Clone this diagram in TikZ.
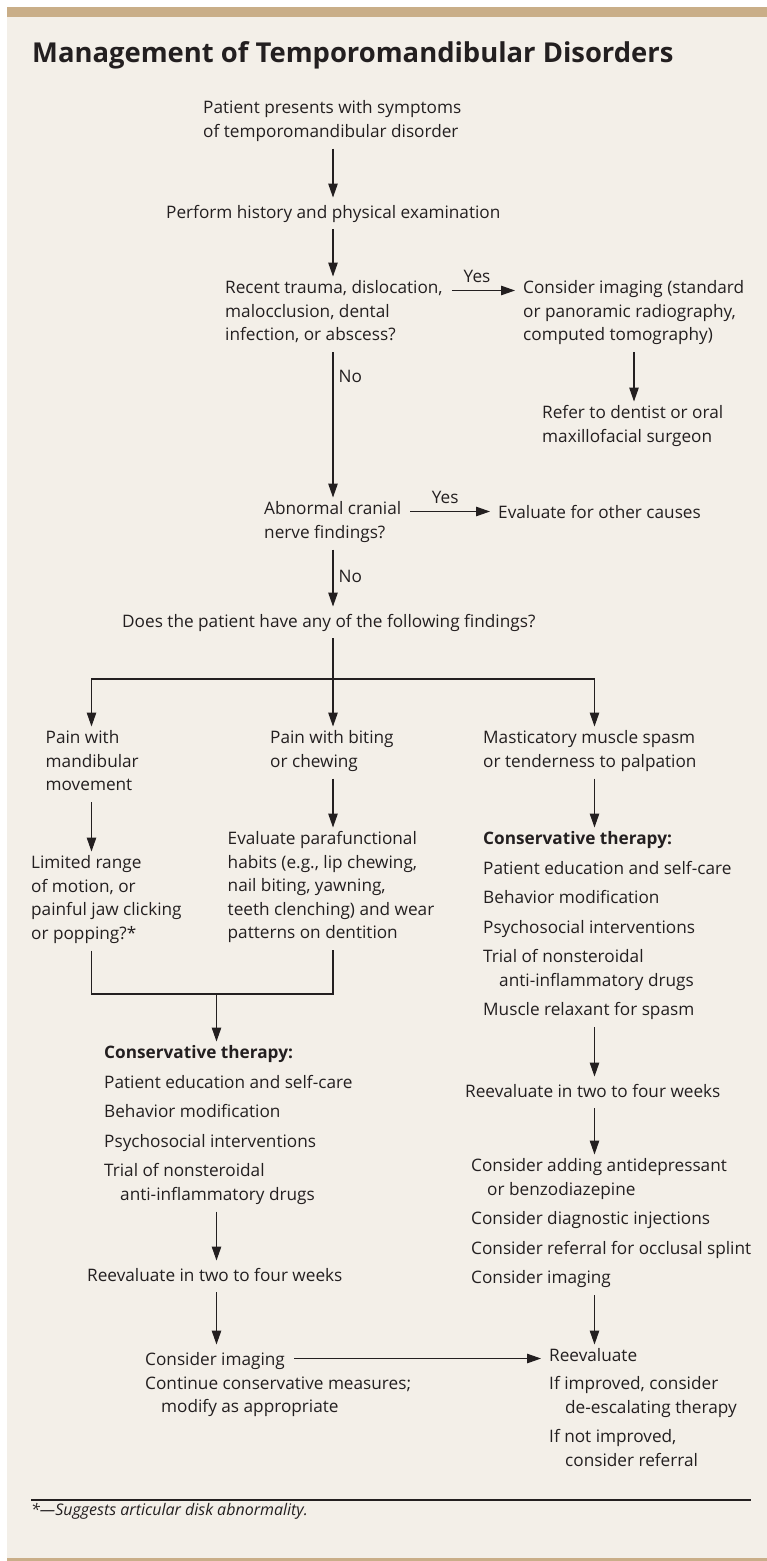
\documentclass[tikz,border=0pt]{standalone}
\usepackage{fontspec}
\setmainfont{Open Sans}
\usepackage{tikz}
\usetikzlibrary{arrows.meta,positioning}
\definecolor{paper}{RGB}{243,239,232}
\definecolor{band}{RGB}{201,174,136}
\definecolor{ink}{RGB}{35,31,32}
\newcommand{\flowfont}{\fontsize{17.2}{23.5}\selectfont}
\newcommand{\indnt}{\hspace*{16pt}}

\begin{document}
\begin{tikzpicture}[x=1pt, y=-1pt,
  box/.style={anchor=north west, align=left, inner xsep=3pt, inner ysep=4pt,
    font=\flowfont, text=ink, execute at begin node=\strut, execute at end node=\strut},
  lab/.style={inner sep=0pt, font=\flowfont, text=ink},
  link/.style={draw=ink, line width=1.1pt},
  arr/.style={link, -{Triangle[length=14pt,width=9.5pt]}},
  side/.style={arr, shorten <=6pt, shorten >=5pt}]
  % page, top band and bottom rule
  \useasboundingbox (0,0) rectangle (767,1561);
  \fill[white] (0,0) rectangle (767,1561);
  \fill[paper] (7,17) rectangle (767,1558);
  \fill[band] (7,7) rectangle (767,17);
  \fill[band] (7,1558) rectangle (767,1561);

  \node[anchor=base west, inner sep=0pt, text=ink,
    font=\fontsize{27.4}{32}\selectfont\bfseries] (title) at (32,62)
    {Management of Temporomandibular Disorders};

  % x positions of the vertical connectors
  \coordinate (colL) at (91.5,0);
  \coordinate (colJ) at (216.5,0);
  \coordinate (colC) at (333,0);
  \coordinate (colR) at (594.5,0);
  \coordinate (colI) at (634,0);

  % upper part: screening questions
  \node[box] (patient) at (200,96.5) {Patient presents with symptoms\\of temporomandibular disorder};
  \node[box] (exam) at (163,197.5) {Perform history and physical examination};
  \node[box] (recent) at (222,276.5) {Recent trauma, dislocation,\\malocclusion, dental\\infection, or abscess?};
  \node[box] (imaging) at (520,276.5) {Consider imaging (standard\\or panoramic radiography,\\computed tomography)};
  \node[box] (refer) at (539,401.5) {Refer to dentist or oral\\maxillofacial surgeon};
  \node[box] (cranial) at (261,497.5) {Abnormal cranial\\nerve findings?};
  \node[box] (other) at (495,497.5) {Evaluate for other causes};
  \node[box] (findings) at (119,606.5) {Does the patient have any of the following findings?};

  % three findings
  \node[box] (painmov) at (42.5,726.5) {Pain with\\mandibular\\movement};
  \node[box] (painbite) at (267,726.5) {Pain with biting\\or chewing};
  \node[box] (spasm) at (480,726.5) {Masticatory muscle spasm\\or tenderness to palpation};
  \node[box] (limited) at (28,851.5) {Limited range\\of motion, or\\painful jaw clicking\\or popping?*};
  \node[box] (habits) at (224.5,827.5) {Evaluate parafunctional\\habits (e.g., lip chewing,\\nail biting, yawning,\\teeth clenching) and wear\\patterns on dentition};
  \node[box] (consR) at (480,827.5) {\textbf{Conservative therapy:}\\[6pt]Patient education and self-care\\[6pt]Behavior modification\\[6pt]Psychosocial interventions\\[6pt]Trial of nonsteroidal\\\indnt anti-inflammatory drugs\\[6pt]Muscle relaxant for spasm};

  % lower part: therapy and follow-up
  \node[box] (consL) at (101,1041.5) {\textbf{Conservative therapy:}\\[6pt]Patient education and self-care\\[6pt]Behavior modification\\[6pt]Psychosocial interventions\\[6pt]Trial of nonsteroidal\\\indnt anti-inflammatory drugs};
  \node[box] (reevalL) at (84,1260.5) {Reevaluate in two to four weeks};
  \node[box] (reevalR) at (462,1076.5) {Reevaluate in two to four weeks};
  \node[box] (addR) at (468,1154.5) {Consider adding antidepressant\\\indnt or benzodiazepine\\[6pt]Consider diagnostic injections\\[6pt]Consider referral for occlusal splint\\[6pt]Consider imaging};
  \node[box] (imgL) at (142,1344.5) {Consider imaging};
  \node[box] (contL) at (142,1372.5) {Continue conservative measures;\\\indnt modify as appropriate};
  \node[box] (reeval) at (546,1344.5) {Reevaluate\\[4.5pt]If improved, consider\\\indnt de-escalating therapy\\[6pt]If not improved,\\\indnt consider referral};

  % connectors
  \draw[arr] (patient.south -| colC) -- (exam.north -| colC);
  \draw[arr] (exam.south -| colC) -- (recent.north -| colC);
  \draw[side] ([yshift=-14pt]recent.north east) -- node[lab, above=7pt, pos=.42] {Yes} ([yshift=-14pt]imaging.north west);
  \draw[arr] (imaging.south -| colI) -- (refer.north -| colI);
  \draw[arr] (recent.south -| colC) -- node[lab, right=5pt, pos=.17] {No} (cranial.north -| colC);
  \draw[side] ([yshift=-14pt]cranial.north east) -- node[lab, above=7pt, pos=.45] {Yes} ([yshift=-14pt]other.north west);
  \draw[arr] (cranial.south -| colC) -- node[lab, right=5pt, pos=.47] {No} (findings.north -| colC);
  \coordinate (split) at (333,679);
  \draw[link] (findings.south -| colC) -- (split);
  \draw[arr] (split) -| (painmov.north -| colL);
  \draw[arr] (split) -- (painbite.north -| colC);
  \draw[arr] (split) -| (spasm.north -| colR);
  \draw[arr] (painmov.south -| colL) -- (limited.north -| colL);
  \draw[arr] (painbite.south -| colC) -- (habits.north -| colC);
  \draw[arr] (spasm.south -| colR) -- (consR.north -| colR);
  \coordinate (join) at (216.5,994);
  \draw[link] (limited.south -| colL) |- (join);
  \draw[link] (habits.south -| colC) |- (join);
  \draw[arr] (join) -- (consL.north -| colJ);
  \draw[arr] (consL.south -| colJ) -- (reevalL.north -| colJ);
  \draw[arr] (reevalL.south -| colJ) -- (imgL.north -| colJ);
  \draw[side] ([yshift=-14pt]imgL.north east) -- ([yshift=-14pt]reeval.north west);
  \draw[arr] (consR.south -| colR) -- (reevalR.north -| colR);
  \draw[arr] (reevalR.south -| colR) -- (addR.north -| colR);
  \draw[arr] (addR.south -| colR) -- (reeval.north -| colR);

  % footnote
  \draw[link] (31,1500) -- (751,1500);
  \node[anchor=base west, inner sep=0pt, text=ink,
    font=\fontsize{16}{19}\selectfont\itshape] (note) at (31,1515)
    {*—Suggests articular disk abnormality.};
\end{tikzpicture}
\end{document}
